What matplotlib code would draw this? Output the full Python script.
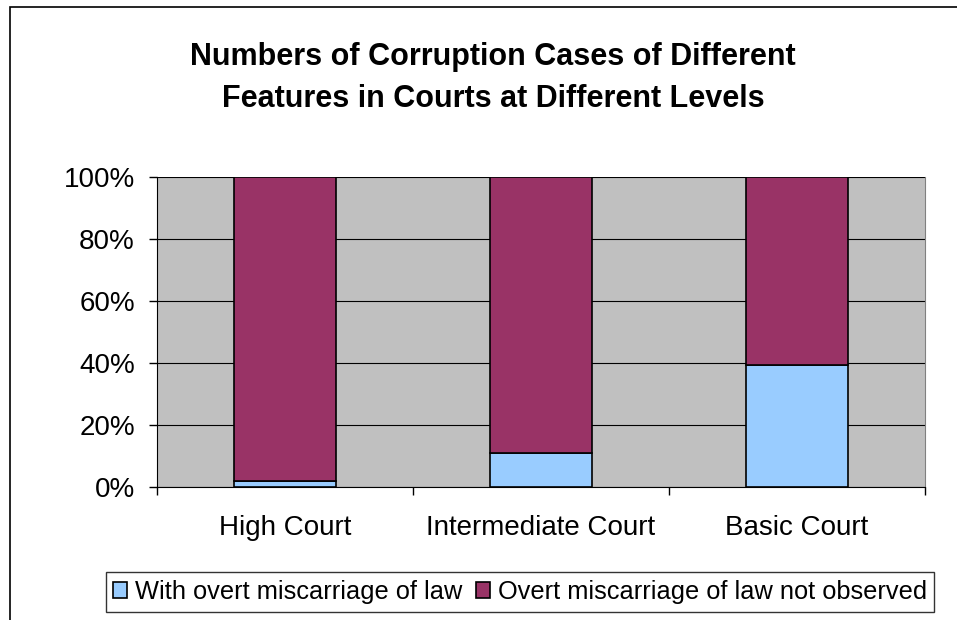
import matplotlib.pyplot as plt
import numpy as np
from matplotlib.patches import Rectangle

plt.rcParams['font.family'] = ['Liberation Sans', 'DejaVu Sans']

courts = ["High Court", "Intermediate Court", "Basic Court"]
with_overt = [2, 11, 39.5]        # % with overt miscarriage of law
not_observed = [98, 89, 60.5]     # % overt miscarriage of law not observed
series_names = ["With overt miscarriage of law", "Overt miscarriage of law not observed"]
ytick_labels = ["0%", "20%", "40%", "60%", "80%", "100%"]

fig = plt.figure(figsize=(9.57, 6.2), dpi=100)
fig.patch.set_facecolor("white")
# outer chart border (right and bottom run off the picture)
fig.patches.append(Rectangle((10/957, -0.05), 1.0, 1 - 7/620 + 0.05, transform=fig.transFigure,
                             fill=False, edgecolor="black", linewidth=1.2))

ax = fig.add_axes([157/957, 1 - 487/620, 768/957, 310/620])
ax.set_facecolor("#C0C0C0")

x = np.arange(len(courts))
w = 0.4
ax.bar(x, with_overt, w, color="#99CCFF", edgecolor="black", linewidth=1.2, zorder=3, label=series_names[0])
ax.bar(x, not_observed, w, bottom=with_overt, color="#993366", edgecolor="black", linewidth=1.2, zorder=3,
       label=series_names[1])

ax.set_xlim(-0.5, 2.5)
ax.set_ylim(0, 100)
ax.set_yticks(np.arange(0, 101, 20))
ax.set_yticklabels(ytick_labels, fontsize=20)
ax.yaxis.grid(True, color="black", linewidth=0.8, zorder=1)
ax.set_axisbelow(True)

ax.set_xticks(x)
ax.set_xticklabels(courts, fontsize=20)
ax.tick_params(axis="x", which="major", length=0, pad=20)
ax.set_xticks([-0.5, 0.5, 1.5, 2.5], minor=True)
ax.tick_params(axis="x", which="minor", length=6, width=1, direction="out")
ax.tick_params(axis="y", length=6, width=1, direction="out", pad=10)

ax.spines["top"].set_visible(False)
ax.spines["right"].set_color("#808080")
ax.spines["left"].set_color("black")
ax.spines["bottom"].set_color("black")

fig.text(493/957, 1 - 78/620, "Numbers of Corruption Cases of Different\nFeatures in Courts at Different Levels",
         ha="center", va="center", fontsize=22, fontweight="bold", linespacing=1.5)

leg = fig.legend(loc="center", bbox_to_anchor=(520/957, 1 - 592/620), ncol=2, fontsize=18.3,
                 frameon=True, fancybox=False, edgecolor="black", handlelength=0.55, handleheight=0.55,
                 handletextpad=0.3, columnspacing=0.55, borderpad=0.3)
leg.get_frame().set_linewidth(1)

fig.savefig("out.png", dpi=100)
